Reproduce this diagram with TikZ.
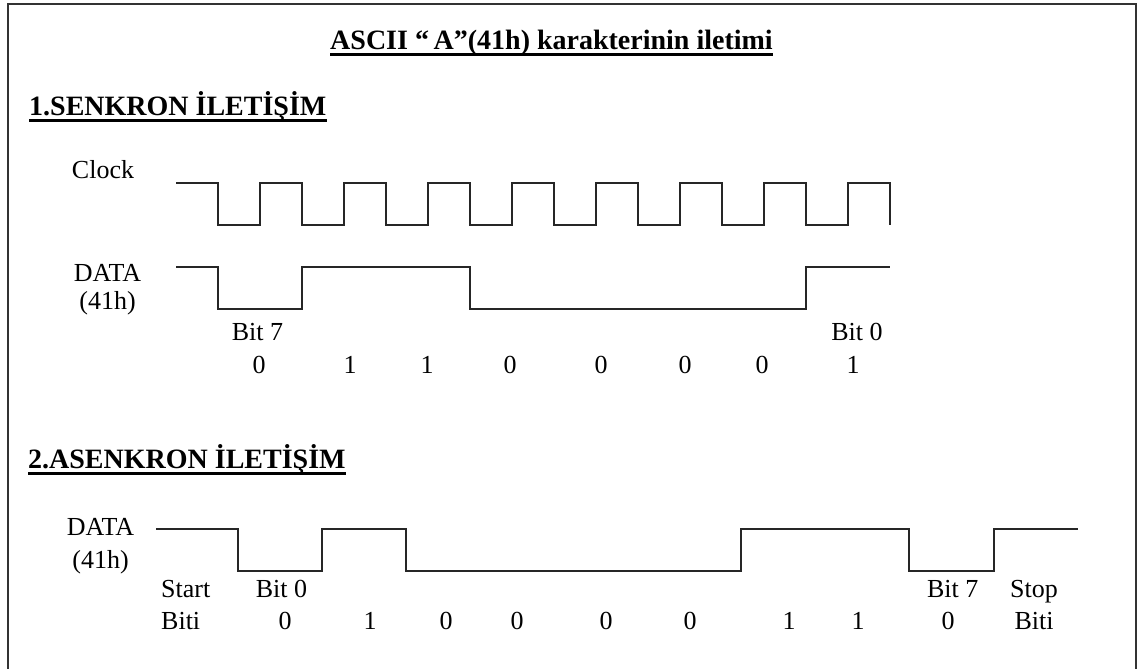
\documentclass[tikz,border=0pt]{standalone}
\usepackage{fontspec}
\setmainfont{Liberation Serif}
\begin{document}
\begin{tikzpicture}[x=1pt,y=-1pt,
  wave/.style={line width=2pt, draw=black!85, line join=miter},
  lbl/.style={inner sep=0pt, anchor=base, font=\fontsize{26}{29}\selectfont},
  hdr/.style={inner sep=0pt, anchor=base west, font=\fontsize{28}{32}\selectfont\bfseries},
  uline/.style={line width=3pt, draw=black}]
\useasboundingbox (0,0) rectangle (1141,669);
% frame
\draw[line width=2pt, draw=black!80] (8,669) -- (8,4.5) -- (1136,4.5) -- (1136,669);

% headings
\node[hdr, anchor=base] (title) at (551.5,50) {ASCII “\,A”(41h) karakterinin iletimi};
\draw[uline] ([yshift=-5pt]title.base west) -- ([yshift=-5pt]title.base east);
\node[hdr] (h1) at (29,115) {1.SENKRON İLETİŞİM};
\draw[uline] ([yshift=-5pt]h1.base west) -- ([yshift=-5pt]h1.base east);
\node[hdr] (h2) at (28,468) {2.ASENKRON İLETİŞİM};
\draw[uline] ([yshift=-5pt]h2.base west) -- ([yshift=-5pt]h2.base east);

% synchronous
\node[lbl] (clk) at (103,178) {Clock};
\node[lbl] (d1) at (107.5,281) {DATA};
\node[lbl] (d1h) at (107.5,309) {(41h)};
\draw[wave] (176,183) -- (218,183)
  \foreach \k in {0,...,7} { -- ({218+84*\k},225) -- ({260+84*\k},225) -- ({260+84*\k},183) -- ({302+84*\k},183) }
  -- (890,225);
\draw[wave] (176,267) -- (218,267) -- (218,309) -- (302,309) -- (302,267) -- (470,267)
  -- (470,309) -- (806,309) -- (806,267) -- (890,267);
\node[lbl] (b7s) at (257.5,340) {Bit 7};
\node[lbl] (b0s) at (857,340) {Bit 0};
\foreach \x/\v [count=\i] in {259/0,350/1,427/1,510/0,601/0,685/0,762/0,853/1}
  \node[lbl] (sv\i) at (\x,373) {\v};

% asynchronous
\node[lbl] (d2) at (100.5,535) {DATA};
\node[lbl] (d2h) at (100.5,568) {(41h)};
\draw[wave] (156,529) -- (238,529) -- (238,571) -- (322,571) -- (322,529) -- (406,529)
  -- (406,571) -- (741,571) -- (741,529) -- (909,529) -- (909,571) -- (994,571)
  -- (994,529) -- (1078,529);
\node[lbl, anchor=base west] (start) at (161,597) {Start};
\node[lbl, anchor=base west] (sbit) at (161,629) {Biti};
\node[lbl] (b0a) at (281.5,597) {Bit 0};
\node[lbl] (b7a) at (952.7,597) {Bit 7};
\node[lbl] (stop) at (1034,597) {Stop};
\node[lbl] (pbit) at (1034,629) {Biti};
\foreach \x/\v [count=\i] in {285/0,370/1,446/0,517/0,606/0,690/0,789/1,858/1,948/0}
  \node[lbl] (av\i) at (\x,629) {\v};
\end{tikzpicture}
\end{document}
